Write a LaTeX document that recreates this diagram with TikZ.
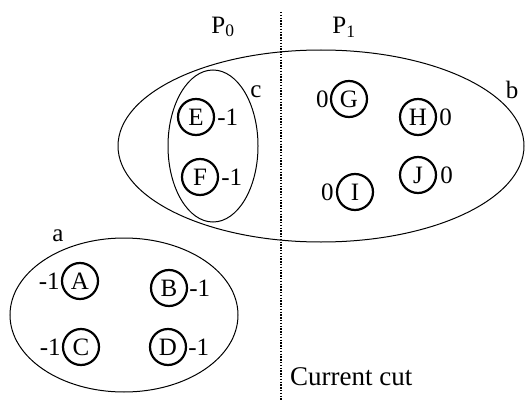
\documentclass[tikz,border=0pt]{standalone}
\usepackage{fontspec}
\setmainfont{Liberation Serif}
\begin{document}
\begin{tikzpicture}[x=1pt,y=-1pt,
  vert/.style={circle,draw,line width=2.2pt,minimum size=36pt,inner sep=0pt,font=\fontsize{25}{25}\selectfont},
  lab/.style={font=\fontsize{25}{25}\selectfont,inner sep=0pt},
  grp/.style={draw,line width=1pt}]
\useasboundingbox (0,0) rectangle (527,401);
% ellipses
\draw[grp] (321,146) ellipse [x radius=203, y radius=96];
\draw[grp] (213,146) ellipse [x radius=45, y radius=76];
\draw[grp] (124,315) ellipse [x radius=114, y radius=77];
% cut line
\coordinate (cuttop) at (281,12);
\coordinate (cutbot) at (281,400);
\draw[line width=2.6pt, dash pattern=on 1.4pt off 1.4pt] (cuttop) -- (cutbot);
% vertices
\node[vert] (E) at (196,117) {E};
\node[vert] (F) at (200,177) {F};
\node[vert] (G) at (349,99) {G};
\node[vert] (H) at (418,117) {H};
\node[vert] (I) at (355,192) {I};
\node[vert] (J) at (418,175) {J};
\node[vert] (A) at (80,281) {A};
\node[vert] (B) at (169,288) {B};
\node[vert] (C) at (81,347) {C};
\node[vert] (D) at (168,347) {D};
% value labels
\node[lab,anchor=west] (lE) at ([xshift=2pt]E.east) {-1};
\node[lab,anchor=west] (lF) at ([xshift=2pt]F.east) {-1};
\node[lab,anchor=east] (lG) at ([xshift=-1pt]G.west) {0};
\node[lab,anchor=west] (lH) at ([xshift=2pt]H.east) {0};
\node[lab,anchor=east] (lI) at ([xshift=-2pt]I.west) {0};
\node[lab,anchor=west] (lJ) at ([xshift=3pt]J.east) {0};
\node[lab,anchor=east] (lA) at ([xshift=-1pt]A.west) {-1};
\node[lab,anchor=west] (lB) at ([xshift=1pt]B.east) {-1};
\node[lab,anchor=east] (lC) at ([xshift=-1pt]C.west) {-1};
\node[lab,anchor=west] (lD) at ([xshift=1pt]D.east) {-1};
% group names
\node[lab] (na) at (58,236) {a};
\node[lab] (nb) at (512,90) {b};
\node[lab] (nc) at (256,92) {c};
\node[lab] (P0) at (223,27) {P\textsubscript{0}};
\node[lab] (P1) at (344,27) {P\textsubscript{1}};
\node[lab,anchor=west,font=\fontsize{27}{27}\selectfont] (cut) at (290,377) {Current cut};
\end{tikzpicture}
\end{document}
